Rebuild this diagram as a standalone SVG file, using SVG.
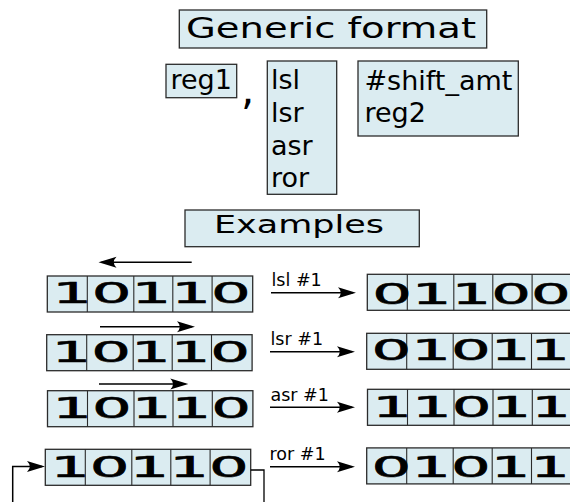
<svg xmlns="http://www.w3.org/2000/svg" width="570" height="502" viewBox="0 0 570 502">
<defs>
<style>
.box{fill:#dbecf1;stroke:#2b2b2b;stroke-width:1.3}
.div{stroke:#2b2b2b;stroke-width:1.1;fill:none}
.t{font-family:"DejaVu Sans","Liberation Sans",sans-serif;fill:#000}
.dig{font-family:"DejaVu Sans","Liberation Sans",sans-serif;font-size:27.5px;fill:#000;stroke:#000;stroke-width:0.5}
.lbl{font-family:"DejaVu Sans","Liberation Sans",sans-serif;font-size:17.5px;fill:#000}
.arr{stroke:#000;stroke-width:1.5;fill:none;marker-end:url(#ah)}
.ln{stroke:#000;stroke-width:1.3;fill:none}
</style>
<marker id="ah" markerUnits="userSpaceOnUse" markerWidth="30" markerHeight="20" refX="-3" refY="0" orient="auto" overflow="visible">
<path d="M0,0 L-18,-5.5 Q-12.5,0 -18,5.5 Z" fill="#000"/>
</marker>
</defs>

<g id="generic-format">
<rect class="box" x="179.3" y="10" width="307.4" height="38"/>
<text class="t" x="186" y="38.3" font-size="27.5" textLength="290" lengthAdjust="spacingAndGlyphs">Generic format</text>
</g>

<g id="reg1">
<rect class="box" x="166" y="64.3" width="70.7" height="33.4"/>
<text class="t" x="170.5" y="89.3" font-size="27">reg1</text>
</g>

<g id="comma">
<text class="t" x="241" y="104" font-size="42">,</text>
</g>

<g id="shift-ops">
<rect class="box" x="267.3" y="61" width="69.4" height="133.3"/>
<text class="t" x="271" y="89.3" font-size="27">lsl</text>
<text class="t" x="271" y="122.3" font-size="27">lsr</text>
<text class="t" x="271" y="155" font-size="27">asr</text>
<text class="t" x="271" y="187" font-size="27">ror</text>
</g>

<g id="operand">
<rect class="box" x="358" y="61" width="160.3" height="75"/>
<text class="t" x="364.5" y="90" font-size="27">#shift_amt</text>
<text class="t" x="364.5" y="121.7" font-size="27">reg2</text>
</g>

<g id="examples">
<rect class="box" x="185" y="210" width="234.3" height="36.7"/>
<text class="t" x="214" y="233.3" font-size="25" textLength="170" lengthAdjust="spacingAndGlyphs">Examples</text>
</g>

<g id="lsl-src">
<rect class="box" x="47.3" y="276" width="205.4" height="36"/>
<path class="div" d="M87.3,276V312M133.8,276V312M172.8,276V312M212.1,276V312"/>
<text class="dig" transform="translate(52.15,303.3) scale(2.27,1)">10110</text>
</g>
<g id="lsl-dst">
<rect class="box" x="367.3" y="274.3" width="205.4" height="36"/>
<path class="div" d="M407.3,274.3V310.3M453.8,274.3V310.3M492.8,274.3V310.3M532.1,274.3V310.3"/>
<text class="dig" transform="translate(372.15,304.3) scale(2.27,1)">01100</text>
</g>

<g id="lsr-src">
<rect class="box" x="46.7" y="334.7" width="205.4" height="36"/>
<path class="div" d="M86.7,334.7V370.7M133.2,334.7V370.7M172.2,334.7V370.7M211.5,334.7V370.7"/>
<text class="dig" transform="translate(51.55,361.5) scale(2.27,1)">10110</text>
</g>
<g id="lsr-dst">
<rect class="box" x="366.7" y="333.3" width="205.4" height="36"/>
<path class="div" d="M406.7,333.3V369.3M453.2,333.3V369.3M492.2,333.3V369.3M531.5,333.3V369.3"/>
<text class="dig" transform="translate(371.55,360.3) scale(2.27,1)">01011</text>
</g>

<g id="asr-src">
<rect class="box" x="47.5" y="390.7" width="205.4" height="36"/>
<path class="div" d="M87.5,390.7V426.7M134,390.7V426.7M173,390.7V426.7M212.3,390.7V426.7"/>
<text class="dig" transform="translate(52.35,418) scale(2.27,1)">10110</text>
</g>
<g id="asr-dst">
<rect class="box" x="367.5" y="389.3" width="205.4" height="36"/>
<path class="div" d="M407.5,389.3V425.3M454,389.3V425.3M493,389.3V425.3M532.3,389.3V425.3"/>
<text class="dig" transform="translate(372.35,417) scale(2.27,1)">11011</text>
</g>

<g id="ror-src">
<rect class="box" x="45.3" y="449.3" width="205.4" height="36"/>
<path class="div" d="M85.3,449.3V485.3M131.8,449.3V485.3M170.8,449.3V485.3M210.1,449.3V485.3"/>
<text class="dig" transform="translate(50.15,477) scale(2.27,1)">10110</text>
</g>
<g id="ror-dst">
<rect class="box" x="366.7" y="447.9" width="205.4" height="36"/>
<path class="div" d="M406.7,447.9V483.9M453.2,447.9V483.9M492.2,447.9V483.9M531.5,447.9V483.9"/>
<text class="dig" transform="translate(371.55,476.7) scale(2.27,1)">01011</text>
</g>

<g id="labels">
<text class="lbl" x="271.5" y="286">lsl #1</text>
<text class="lbl" x="270.5" y="344.5">lsr #1</text>
<text class="lbl" x="270.5" y="401">asr #1</text>
<text class="lbl" x="269.5" y="459.5">ror #1</text>
</g>

<g id="connectors">
<path class="arr" d="M191.7,262.3H101.5"/>
<path class="arr" d="M100,326.7H192"/>
<path class="arr" d="M99,384H185.3"/>
<path class="arr" d="M271,292.7H353"/>
<path class="arr" d="M270,351.7H352"/>
<path class="arr" d="M270,407.3H352"/>
<path class="arr" d="M270,466.7H352"/>
<path class="arr" d="M12.7,503V466.5H42"/>
<path class="ln" d="M250.7,470H264V503"/>
</g>
</svg>
